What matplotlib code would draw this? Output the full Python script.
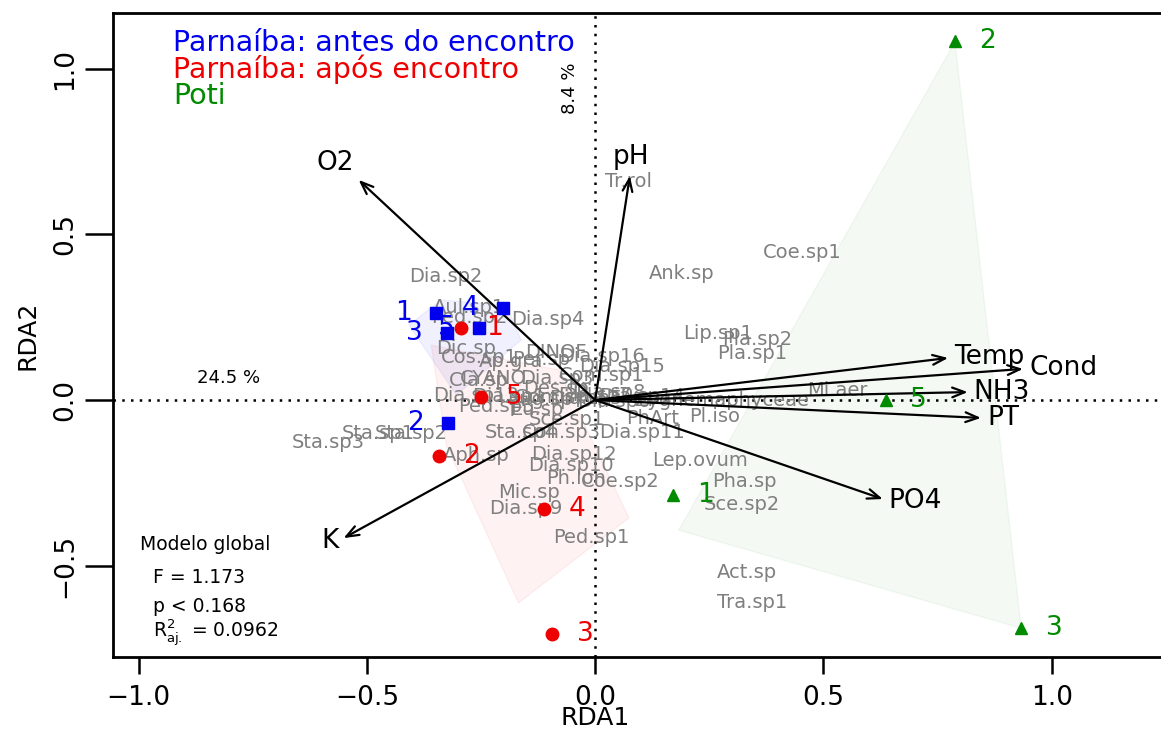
import numpy as np
import matplotlib
matplotlib.use("Agg")
import matplotlib.pyplot as plt
from matplotlib.patches import Polygon

# site scores (RDA1, RDA2)
antes_lab = ["1", "2", "3", "4", "5"]
antes_x = [-0.348, -0.322, -0.324, -0.201, -0.254]
antes_y = [0.263, -0.069, 0.202, 0.278, 0.217]

apos_lab = ["1", "2", "3", "4", "5"]
apos_x = [-0.293, -0.342, -0.094, -0.113, -0.249]
apos_y = [0.218, -0.169, -0.707, -0.329, 0.009]

poti_lab = ["1", "2", "3", "5"]
poti_x = [0.170, 0.788, 0.933, 0.636]
poti_y = [-0.287, 1.085, -0.689, 0.000]

# hulls
hull_antes_x = [-0.408, -0.337, -0.195, -0.162, -0.304]
hull_antes_y = [0.227, 0.302, 0.287, 0.181, 0.015]
hull_apos_x = [-0.359, -0.326, -0.168, 0.074, -0.080]
hull_apos_y = [0.166, -0.136, -0.613, -0.356, 0.091]
hull_poti_x = [0.788, 0.933, 0.183]
hull_poti_y = [1.082, -0.689, -0.393]

# environmental vectors
env_names = ["O2", "pH", "Temp", "Cond", "NH3", "PT", "PO4", "K"]
env_x = [-0.518, 0.076, 0.773, 0.937, 0.816, 0.845, 0.630, -0.551]
env_y = [0.665, 0.677, 0.127, 0.094, 0.024, -0.054, -0.299, -0.417]

# species scores
spp_names = ["Tr.rol", "Coe.sp1", "Ank.sp", "Dia.sp2", "Aul.sp1", "Ped.sp2", "Dia.sp4",
             "Lip.sp1", "Dic.sp", "Cos.sp1", "Ap.gra", "DINOF", "Per.sp", "Dia.sp16",
             "Dia.sp15", "Com.sp1", "CYANO", "Cla.sp", "Dia.sp3", "Des.sp", "Dia.sp13",
             "Gom.sp", "Ped.sp3", "Eu.sp", "Sce.sp1", "PhArt", "Pl.iso", "Dia.sp11",
             "Con.sp3", "Sta.sp4", "Sta.sp2", "Sta.sp1", "Sta.sp3", "Aph.sp", "Dia.sp12",
             "Dia.sp10", "Ph.lon", "Coe.sp2", "Lep.ovum", "Pha.sp", "Sce.sp2", "Mic.sp",
             "Dia.sp9", "Ped.sp1", "Act.sp", "Tra.sp1", "Pla.sp2", "Pla.sp1", "Mi.aer",
             "Zygnemaphyceae", "Dia.sp14", "Dia.sp8", "Dia.sp1", "Dia.sp5", "Dia.sp6",
             "Eug.sp", "Dia.sp7"]
spp_x = [0.074, 0.454, 0.190, -0.326, -0.276, -0.276, -0.104,
         0.269, -0.282, -0.254, -0.184, -0.085, -0.118, 0.014,
         0.058, 0.014, -0.223, -0.254, -0.085, -0.085, -0.260,
         -0.096, -0.216, -0.128, -0.063, 0.125, 0.261, 0.102,
         -0.074, -0.162, -0.403, -0.474, -0.584, -0.260, -0.047,
         -0.052, -0.041, 0.054, 0.230, 0.326, 0.322, -0.144,
         -0.151, -0.008, 0.333, 0.344, 0.355, 0.344, 0.531,
         0.278, 0.102, 0.030, -0.190, -0.020, 0.040,
         -0.120, 0.000]
spp_y = [0.659, 0.447, 0.381, 0.372, 0.281, 0.248, 0.242,
         0.202, 0.157, 0.127, 0.115, 0.145, 0.121, 0.130,
         0.100, 0.073, 0.066, 0.060, 0.066, 0.036, 0.015,
         0.009, -0.021, -0.030, -0.060, -0.057, -0.051, -0.097,
         -0.097, -0.097, -0.100, -0.100, -0.127, -0.169, -0.166,
         -0.199, -0.236, -0.245, -0.184, -0.245, -0.314, -0.278,
         -0.329, -0.414, -0.520, -0.613, 0.184, 0.142, 0.030,
         0.000, 0.012, 0.024, 0.010, 0.005, -0.005,
         0.002, 0.015]

blue = "#0000ee"
red = "#ee0000"
green = "#008b00"

fig = plt.figure(figsize=(11.61, 7.38), dpi=100)
ax = fig.add_axes([0.0973, 0.1098, 0.905, 0.8726])
ax.set_xlim(-1.056, 1.245)
ax.set_ylim(-0.776, 1.169)

# hulls
for hx, hy, col, a in [(hull_antes_x, hull_antes_y, blue, 0.06),
                       (hull_apos_x, hull_apos_y, red, 0.05),
                       (hull_poti_x, hull_poti_y, green, 0.045)]:
    ax.add_patch(Polygon(np.column_stack([hx, hy]), closed=True,
                         facecolor=col, alpha=a, edgecolor="none", zorder=1))
    ax.add_patch(Polygon(np.column_stack([hx, hy]), closed=True,
                         facecolor="none", edgecolor=col, alpha=0.05, lw=1, zorder=1))

ax.axhline(0, color="black", ls=(0, (1, 2.5)), lw=1.8, zorder=2)
ax.axvline(0, color="black", ls=(0, (1, 2.5)), lw=1.8, zorder=2)

# species
for name, x, y in zip(spp_names, spp_x, spp_y):
    ax.text(x, y, name, color="#7f7f7f", fontsize=14, ha="center", va="center", zorder=3)

# arrows
for name, x, y in zip(env_names, env_x, env_y):
    ax.annotate("", xy=(x, y), xytext=(0, 0),
                arrowprops=dict(arrowstyle="->,head_length=0.9,head_width=0.35",
                                color="black", lw=1.6, shrinkA=0, shrinkB=0), zorder=4)
    ang = np.arctan2(y * 331, x * 455)
    c, s = np.cos(ang), np.sin(ang)
    ha = "left" if c > 0.5 else ("right" if c < -0.5 else "center")
    va = "bottom" if s > 0.5 else ("top" if s < -0.5 else "center")
    ax.annotate(name, xy=(x, y), xytext=(6 * c, 6 * s), textcoords="offset pixels",
                ha=ha, va=va, fontsize=19, color="black", zorder=5)

# sites
ax.plot(antes_x, antes_y, "s", color=blue, ms=8, zorder=6)
ax.plot(apos_x, apos_y, "o", color=red, ms=9, zorder=6)
ax.plot(poti_x, poti_y, "^", color=green, ms=9, zorder=6)
for lab, x, y in zip(antes_lab, antes_x, antes_y):
    ax.annotate(lab, xy=(x, y), xytext=(-33, 0), textcoords="offset pixels",
                ha="center", va="center", color=blue, fontsize=19, zorder=7)
for lab, x, y in zip(apos_lab, apos_x, apos_y):
    ax.annotate(lab, xy=(x, y), xytext=(33, 0), textcoords="offset pixels",
                ha="center", va="center", color=red, fontsize=19, zorder=7)
for lab, x, y in zip(poti_lab, poti_x, poti_y):
    ax.annotate(lab, xy=(x, y), xytext=(33, 0), textcoords="offset pixels",
                ha="center", va="center", color=green, fontsize=19, zorder=7)

# legend text
ax.text(0.057, 0.953, "Parnaíba: antes do encontro", color=blue, fontsize=20.5,
        transform=ax.transAxes, va="center")
ax.text(0.057, 0.913, "Parnaíba: após encontro", color=red, fontsize=20.5,
        transform=ax.transAxes, va="center")
ax.text(0.057, 0.871, "Poti", color=green, fontsize=20.5,
        transform=ax.transAxes, va="center")

# explained variance
ax.text(-0.803, 0.066, "24.5 %", fontsize=13, ha="center", va="center")
ax.text(-0.056, 0.943, "8.4 %", fontsize=13, ha="center", va="center", rotation=90)

# global model
ax.text(0.026, 0.174, "Modelo global", fontsize=13.5, transform=ax.transAxes, va="center")
ax.text(0.038, 0.123, "F = 1.173", fontsize=13.5, transform=ax.transAxes, va="center")
ax.text(0.038, 0.079, "p < 0.168", fontsize=13.5, transform=ax.transAxes, va="center")
ax.text(0.038, 0.037, r"$\mathregular{R^2_{aj.}}$ = 0.0962", fontsize=13.5,
        transform=ax.transAxes, va="center")

ax.set_xticks([-1.0, -0.5, 0.0, 0.5, 1.0])
ax.set_yticks([-0.5, 0.0, 0.5, 1.0])
ax.tick_params(axis="x", length=12, width=1.8, pad=8, labelsize=19)
ax.tick_params(axis="y", length=20, width=1.8, pad=5, labelsize=19)
for t in ax.get_yticklabels():
    t.set_rotation(90)
    t.set_va("center")
for sp in ax.spines.values():
    sp.set_linewidth(2)

ax.set_xlabel("RDA1", fontsize=18)
ax.set_ylabel("RDA2", fontsize=18)
ax.xaxis.set_label_coords(0.4586, -0.0947)
ax.xaxis.label.set_va("center")
ax.yaxis.set_label_coords(-0.0809, 0.5)
ax.yaxis.label.set_va("center")

fig.savefig("out.png", dpi=100)
